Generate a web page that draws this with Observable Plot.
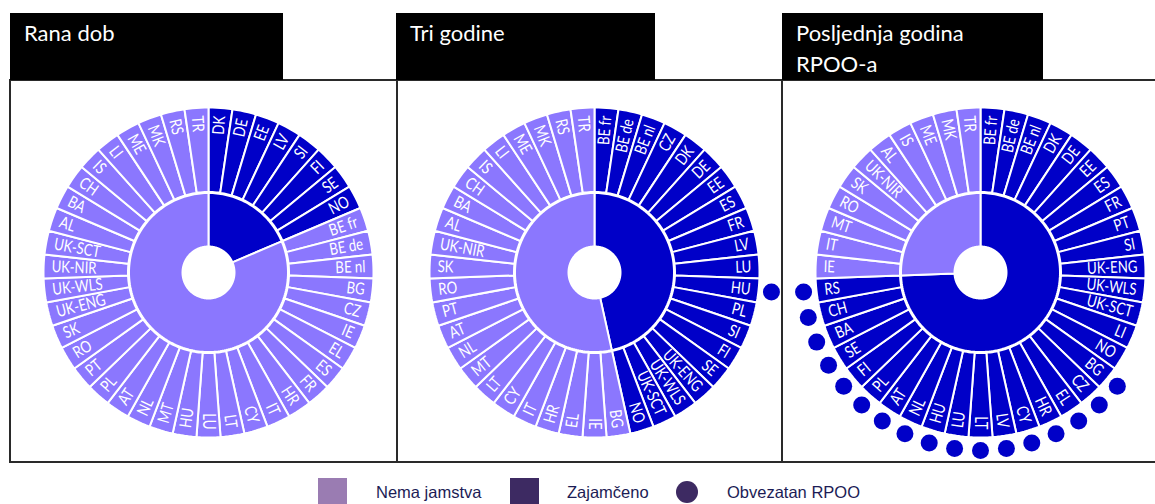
<!DOCTYPE html>
<html><head><meta charset="utf-8">
<script src="https://cdn.jsdelivr.net/npm/d3@7"></script>
<script src="https://cdn.jsdelivr.net/npm/@observablehq/plot@0.6"></script>
<style>
html,body{margin:0;padding:0;background:#fff}
body{width:1155px;height:504px;overflow:hidden;position:relative}
.hdr{position:absolute;top:13px;height:67px;background:#000;color:#fff;font-family:Lato,"Open Sans",sans-serif;font-size:22px;line-height:31px;padding:4px 0 0 14px;box-sizing:border-box;white-space:pre}
.frame{position:absolute;left:9px;top:79px;width:1160px;height:384px;border:2px solid #2a2a2a;box-sizing:border-box}
.vline{position:absolute;top:79px;height:384px;width:2px;background:#2a2a2a}
.lg{position:absolute;font-family:"Liberation Sans",Arial,sans-serif;font-size:16.5px;color:#1c1c55;top:483px}
.sw{position:absolute;top:478px;width:29px;height:28px}
</style></head>
<body>
<div class="frame"></div>
<div class="vline" style="left:396px"></div>
<div class="vline" style="left:781px"></div>
<div id="hdrs"></div>
<div id="panels"></div>
<div id="legend"></div>
<script>
// ---- data ----
const panelTitles = ["Rana dob", "Tri godine", "Posljednja godina\nRPOO-a"];
const statusLabels = ["Nema jamstva", "Zajamčeno"];
const compulsoryLabel = "Obvezatan RPOO";

const earlyGuaranteed = ["DK","DE","EE","LV","SI","FI","SE","NO"];
const earlyNone = ["BE fr","BE de","BE nl","BG","CZ","IE","EL","ES","FR","HR","IT","CY","LT","LU","HU","MT","NL","AT","PL","PT","RO","SK","UK-ENG","UK-WLS","UK-NIR","UK-SCT","AL","BA","CH","IS","LI","ME","MK","RS","TR"];
const earlyCompulsory = [];

const threeGuaranteed = ["BE fr","BE de","BE nl","CZ","DK","DE","EE","ES","FR","LV","LU","HU","PL","SI","FI","SE","UK-ENG","UK-WLS","UK-SCT","NO"];
const threeNone = ["BG","IE","EL","HR","IT","CY","LT","MT","NL","AT","PT","RO","SK","UK-NIR","AL","BA","CH","IS","LI","ME","MK","RS","TR"];
const threeCompulsory = ["HU"];

const lastGuaranteed = ["BE fr","BE de","BE nl","DK","DE","EE","ES","FR","PT","SI","UK-ENG","UK-WLS","UK-SCT","LI","NO","BG","CZ","EL","HR","CY","LV","LT","LU","HU","NL","AT","PL","FI","SE","BA","CH","RS"];
const lastNone = ["IE","IT","MT","RO","SK","UK-NIR","AL","IS","ME","MK","TR"];
const lastCompulsory = ["BG","CZ","EL","HR","CY","LV","LT","LU","HU","NL","AT","PL","FI","SE","BA","CH","RS"];

// ---- styles ----
const LIGHT = "#8b77fe", DARK = "#0000c8";
const LEG_LIGHT = "#9a7cb2", LEG_DARK = "#3d2a62";
const W = 384, H = 381, CX = 197, CY = 191;
const R_HOLE = 26, R_IN = 79.5, R_OUT0 = 80.5, R_OUT = 165, R_TXT = 157, R_DOT = 178;
const panelLefts = [11, 397, 783];
const hdrBoxes = [[10, 273], [396, 259], [782, 261]];
const FONT = "Lato,'Liberation Sans Narrow','DejaVu Sans Condensed',sans-serif";
const SQUEEZE = 0.8;

function arcPoly(a0, a1, r0, r1, key, s) {
  const pts = [];
  const steps = Math.max(2, Math.ceil((a1 - a0) / (Math.PI / 120)));
  for (let k = 0; k <= steps; k++) { const a = a0 + (a1 - a0) * k / steps; pts.push({key, s, x: r1 * Math.sin(a), y: -r1 * Math.cos(a)}); }
  for (let k = steps; k >= 0; k--) { const a = a0 + (a1 - a0) * k / steps; pts.push({key, s, x: r0 * Math.sin(a), y: -r0 * Math.cos(a)}); }
  return pts;
}

function panel(guaranteed, none, compulsory) {
  const order = [...guaranteed.map(c => ({c, s: statusLabels[1]})), ...none.map(c => ({c, s: statusLabels[0]}))];
  const n = order.length, TAU = 2 * Math.PI;
  const wedges = [];
  const split = guaranteed.length / n * TAU;
  if (guaranteed.length) wedges.push(...arcPoly(0, split, R_HOLE, R_IN, "in-g", statusLabels[1]));
  if (none.length) wedges.push(...arcPoly(split, TAU, R_HOLE, R_IN, "in-n", statusLabels[0]));
  const labels = [], dots = [];
  order.forEach((d, i) => {
    const a0 = i / n * TAU, a1 = (i + 1) / n * TAU, am = (i + 0.5) / n * TAU;
    wedges.push(...arcPoly(a0, a1, R_OUT0, R_OUT, "o" + i, d.s));
    const deg = am * 180 / Math.PI;
    const right = deg <= 180.001;
    labels.push({c: d.c, right, x: R_TXT * Math.sin(am), y: -R_TXT * Math.cos(am), rot: right ? deg - 90 : deg + 90});
    if (compulsory.includes(d.c)) dots.push({c: d.c, s: statusLabels[1], x: R_DOT * Math.sin(am), y: -R_DOT * Math.cos(am)});
  });
  return Plot.plot({
    width: W, height: H, margin: 0,
    style: {fontFamily: FONT, background: "transparent"},
    x: {domain: [-CX, W - CX], range: [0, W], axis: null},
    y: {domain: [-CY, H - CY], range: [0, H], axis: null},
    color: {domain: statusLabels, range: [LIGHT, DARK]},
    marks: [
      Plot.line(wedges, {x: "x", y: "y", z: "key", fill: "s", stroke: "white", strokeWidth: 2, curve: "linear-closed"}),
      Plot.text(labels.filter(d => d.right), {x: "x", y: "y", text: "c", rotate: "rot", textAnchor: "end", fill: "white", fontSize: 16.5, fontFamily: FONT, className: "lbl"}),
      Plot.text(labels.filter(d => !d.right), {x: "x", y: "y", text: "c", rotate: "rot", textAnchor: "start", fill: "white", fontSize: 16.5, fontFamily: FONT, className: "lbl"}),
      Plot.dot(dots, {x: "x", y: "y", r: 8.5, fill: "s", stroke: "none"})
    ]
  });
}

const data = [[earlyGuaranteed, earlyNone, earlyCompulsory], [threeGuaranteed, threeNone, threeCompulsory], [lastGuaranteed, lastNone, lastCompulsory]];
const pc = document.getElementById("panels");
data.forEach((d, i) => {
  const el = panel(...d);
  el.style.position = "absolute";
  el.style.left = panelLefts[i] + "px";
  el.style.top = "81px";
  pc.appendChild(el);
  const h = document.createElement("div");
  h.className = "hdr";
  h.style.left = hdrBoxes[i][0] + "px";
  h.style.width = hdrBoxes[i][1] + "px";
  h.textContent = panelTitles[i];
  document.getElementById("hdrs").appendChild(h);
});
// emulate the condensed label face: squeeze glyphs horizontally
document.querySelectorAll("g.lbl text").forEach(t => {
  const len = t.getComputedTextLength();
  if (len > 0) { t.setAttribute("textLength", (len * SQUEEZE).toFixed(1)); t.setAttribute("lengthAdjust", "spacingAndGlyphs"); }
});

// legend
const lg = document.getElementById("legend");
function add(html) { lg.insertAdjacentHTML("beforeend", html); }
add(`<div class="sw" style="left:318px;background:${LEG_LIGHT}"></div>`);
add(`<div class="lg" style="left:376px">${statusLabels[0]}</div>`);
add(`<div class="sw" style="left:510px;background:${LEG_DARK}"></div>`);
add(`<div class="lg" style="left:567px">${statusLabels[1]}</div>`);
add(`<div style="position:absolute;left:676px;top:481px;width:22px;height:22px;border-radius:50%;background:${LEG_DARK}"></div>`);
add(`<div class="lg" style="left:727px">${compulsoryLabel}</div>`);
</script>
</body></html>
